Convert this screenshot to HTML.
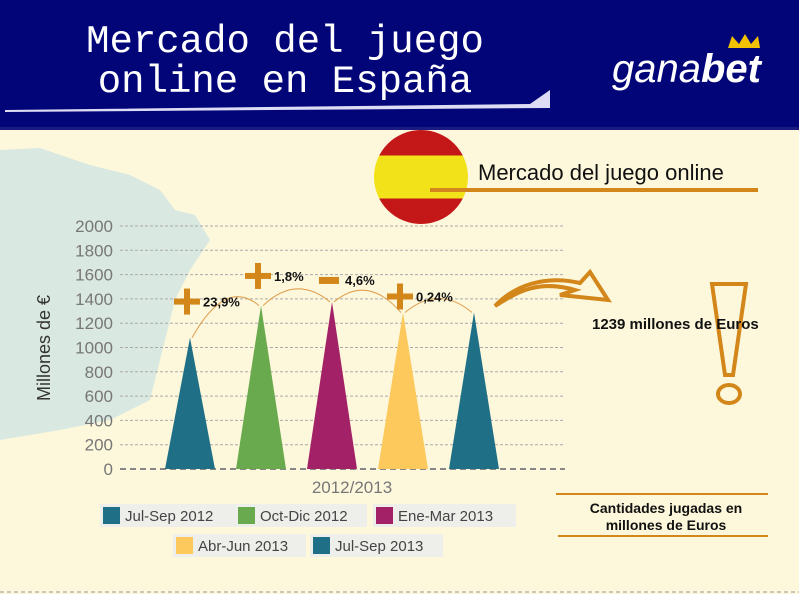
<!DOCTYPE html>
<html><head><meta charset="utf-8">
<style>
body{margin:0;width:799px;height:594px;overflow:hidden;background:#fdf8dc;font-family:"Liberation Sans",sans-serif;position:relative}
.abs{position:absolute}
</style></head><body>
<div class="abs" style="left:0;top:0;width:799px;height:129px;background:#020578"></div>
<svg class="abs" style="left:0;top:0" width="799" height="594">
  <path d="M0,150 L40,148 L90,165 L130,175 L160,190 L175,210 L195,215 L210,240 L190,270 L175,300 L165,340 L150,400 L110,420 L60,430 L0,440Z" fill="#d9e8e0"/>
  <polygon points="5,110 530,104 550,90 550,108 5,112" fill="#dcdcf4"/>
  <rect x="0" y="127" width="799" height="3" fill="#1a1a80"/>
  <text x="285" y="52" text-anchor="middle" font-family="Liberation Mono,monospace" font-size="39" fill="#fff">Mercado del juego</text>
  <text x="285" y="92" text-anchor="middle" font-family="Liberation Mono,monospace" font-size="39" fill="#fff">online en España</text>
  <text x="612" y="82" font-size="40" font-style="italic" fill="#fff">gana<tspan font-weight="bold">bet</tspan></text>
  <polygon points="728,48 732,36 739,44 745,34 751,44 758,36 760,48" fill="#f2c200"/>
  <defs><linearGradient id="fl" x1="0" y1="0" x2="0" y2="1"><stop offset="0" stop-color="#c41818"/><stop offset=".27" stop-color="#c41818"/><stop offset=".27" stop-color="#f2e21a"/><stop offset=".73" stop-color="#f2e21a"/><stop offset=".73" stop-color="#c41818"/><stop offset="1" stop-color="#c41818"/></linearGradient></defs>
  <circle cx="421" cy="177" r="47" fill="url(#fl)"/>
  <line x1="430" y1="190" x2="758" y2="190" stroke="#d3861a" stroke-width="4"/>
  <text x="478" y="180" font-size="22" fill="#111">Mercado del juego online</text>
  <text x="50" y="348" font-size="18" fill="#333" text-anchor="middle" transform="rotate(-90 50 348)">Millones de €</text>
  <g id="grid"></g><g id="bars"></g>
  <text x="352" y="493" font-size="17" fill="#777" text-anchor="middle">2012/2013</text>
  <path d="M495,306 C520,290 540,280 575,290 L560,295 L608,300 L590,272 L580,283 C545,275 515,285 495,306Z" fill="none" stroke="#d3861a" stroke-width="4"/>
  <polygon points="712,284 746,284 733,375 725,375" fill="none" stroke="#d3861a" stroke-width="4"/>
  <ellipse cx="729" cy="394" rx="11" ry="9" fill="none" stroke="#d3861a" stroke-width="4"/>
  <text x="592" y="329" font-size="15" font-weight="bold" fill="#111">1239 millones de Euros</text>
  <line x1="556" y1="494" x2="768" y2="494" stroke="#d3861a" stroke-width="2"/>
  <line x1="558" y1="536" x2="768" y2="536" stroke="#d3861a" stroke-width="2"/>
  <text x="666" y="513" font-size="14" font-weight="bold" fill="#111" text-anchor="middle">Cantidades jugadas en</text>
  <text x="666" y="530" font-size="14" font-weight="bold" fill="#111" text-anchor="middle">millones de Euros</text>
  <line x1="0" y1="592" x2="799" y2="592" stroke="#999" stroke-dasharray="4 3"/>
  <g id="legend"></g>
</svg>
<script>
const categories=["Jul-Sep 2012","Oct-Dic 2012","Ene-Mar 2013","Abr-Jun 2013","Jul-Sep 2013"];
const values=[1080,1345,1375,1288,1288];
const colors=["#1f7086","#6aaa4e","#a32166","#fdc85c","#1f7086"];
const changes=["23,9%","1,8%","4,6%","0,24%"];
const signs=["+","+","-","+"];
const yTicks=[0,200,400,600,800,1000,1200,1400,1600,2000,1800];
const labelDy=[-4,-26,-22,-16];
const NS="http://www.w3.org/2000/svg";
const y=v=>469-v*0.1215, x=i=>190+i*71;
function mk(t,a,p){const e=document.createElementNS(NS,t);for(const k in a)e.setAttribute(k,a[k]);p.appendChild(e);return e;}
const grid=document.getElementById('grid');
yTicks.forEach(t=>{
  const l=mk('line',{x1:120,x2:565,y1:y(t),y2:y(t),stroke:t?'#aaa':'#888','stroke-dasharray':t?'3 2':'6 4','stroke-width':t?1:2},grid);
  
  
  const tx=mk('text',{x:113,y:y(t)+6,'text-anchor':'end','font-size':17,fill:'#777'},grid);tx.textContent=t;
  
  
});
const bars=document.getElementById('bars');
values.forEach((v,i)=>{
  const p=mk('polygon',{points:`${x(i)-25},${y(0)} ${x(i)},${y(v)} ${x(i)+25},${y(0)}`,fill:colors[i]},bars);
  
  
});
changes.forEach((c,i)=>{
  const x1=x(i),x2=x(i+1),y1=y(values[i]),y2=y(values[i+1]);
  const top=Math.min(y1,y2);
  const a=mk('path',{d:`M${x1+2},${y1} Q${(x1+x2)/2},${top-28} ${x2-2},${y2}`,fill:'none',stroke:'#e0a050','stroke-width':1},bars);
  
  
  const sx=x1-3,sy=top+labelDy[i];
  if(signs[i]=='+'){mk('rect',{x:sx-13,y:sy-3,width:26,height:6,fill:'#d3861a'},bars);mk('rect',{x:sx-3,y:sy-13,width:6,height:26,fill:'#d3861a'},bars);}
  else mk('rect',{x:sx-10,y:sy-3,width:20,height:7,fill:'#d3861a'},bars);
  const t=mk('text',{x:sx+16,y:sy+5,'font-size':13,'font-weight':'bold',fill:'#111'},bars);t.textContent=c;
  
  
});
const leg=document.getElementById('legend');
const pos=[[100,504,136],[235,504,132],[373,504,143],[173,534,133],[310,534,133]];
categories.forEach((c,i)=>{
  const [lx,ly,w]=pos[i];
  const g=mk('g',{},leg);
  
  
  mk('rect',{x:lx,y:ly,width:w,height:23,fill:'#eeeeea'},g);
  mk('rect',{x:lx+3,y:ly+3,width:17,height:17,fill:colors[i]},g);
  const t=mk('text',{x:lx+25,y:ly+17,'font-size':15,fill:'#444'},g);t.textContent=c;
});
</script>
</body></html>
